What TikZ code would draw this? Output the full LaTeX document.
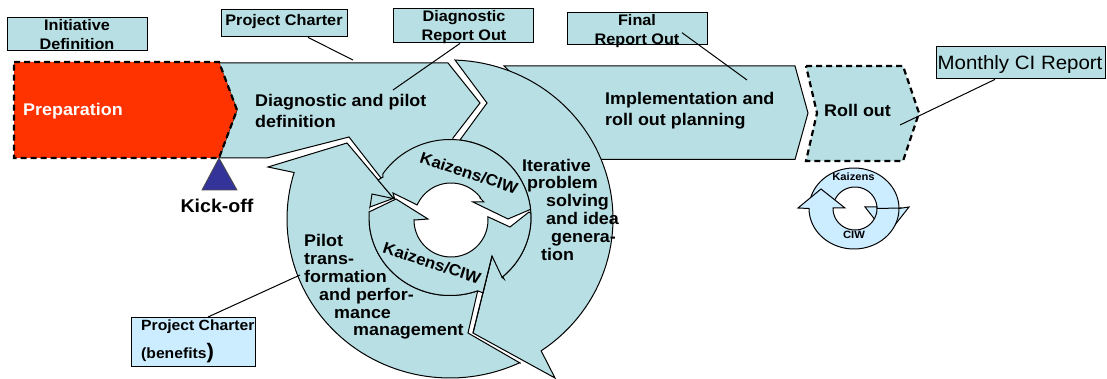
\documentclass[tikz,border=0pt]{standalone}
\usepackage{fontspec}
\setmainfont{Liberation Sans}[FakeStretch=1.06]
\usetikzlibrary{calc}
\definecolor{lb}{HTML}{B8DFE3}
\definecolor{pale}{HTML}{CCECFF}
\definecolor{prep}{HTML}{FF3300}
\definecolor{tri}{HTML}{333399}
\tikzset{
  flow/.style={fill=lb,draw=black,line width=1pt,line join=miter},
  dashflow/.style={fill=lb,draw=black,line width=2.2pt,dash pattern=on 6pt off 4pt},
  smallflow/.style={fill=pale,draw=black,line width=1pt},
  boxshape/.style={draw=black,line width=1.4pt,fill=lb,inner sep=0pt,anchor=north west},
  boxtext/.style={inner sep=0pt,align=center,font=\fontsize{15.3}{19}\selectfont\bfseries},
  main/.style={inner sep=0pt,anchor=west,align=left,font=\fontsize{16.9}{21.5}\selectfont\bfseries},
  spiral/.style={inner sep=0pt,anchor=west,align=left,font=\fontsize{16.9}{17.8}\selectfont\bfseries},
  ringtext/.style={inner sep=0pt,rotate=-18,font=\fontsize{16}{17}\selectfont\bfseries},
  leader/.style={draw=black,line width=1pt},
}
\begin{document}
\begin{tikzpicture}[x=1pt,y=-1pt]
\useasboundingbox (0,0) rectangle (1107,379);
% implementation
\path[flow] (504,66) -- (795,66) -- (808,113) -- (795,159.5) -- (600,159.5) -- (560,120) -- cycle;
% diagnostic
\path[flow] (219,63) -- (448,63) -- (480,103) -- (453,138) -- (450,165) -- (381,178) -- (349,137) -- (267,158) -- (219,158) -- (237,110) -- cycle;
% iterative arrow
\path[flow] (455,60) -- plot[domain=-88:56,samples=60] ({450+163*cos(\x)},{219+159*sin(\x)})
  -- (555,378) -- (473,333) -- (492,256) -- (504,279)
  -- plot[domain=50:-83,samples=50] ({450+81*cos(\x)},{217.5+78*sin(\x)})
  -- (487,103) -- cycle;
% pilot arrow
\path[flow] (520,363) -- plot[domain=64.6:197,samples=60] ({450+163*cos(\x)},{219+159*sin(\x)})
  -- (268,167) -- (347,143) -- (395,200) -- (370,207)
  -- plot[domain=175:70,samples=40] ({450+81*cos(\x)},{217.5+78*sin(\x)})
  -- (468,333) -- cycle;
% gap and sliver at the left of the inner ring
\fill[white] (370,207) -- (393,198) -- (396,200) -- (369,212) -- cycle;
\path[flow] (372,194) -- (393,198.5) -- (370,207) -- cycle;
% upper inner arrow
\path[flow] (383,177) -- plot[domain=-146:-6,samples=50] ({450+81*cos(\x)},{217.5+78*sin(\x)})
  -- (508,219) -- (473,202) -- (484,202) -- (480,198)
  -- plot[domain=-37:-156,samples=30] ({451+37*cos(\x)},{220+37*sin(\x)})
  -- (393,193) -- (395,200) -- (378,180) -- cycle;
% lower inner arrow
\path[flow] (369,212) -- (396,199) -- (428,219) -- (415,220)
  -- plot[domain=180:-5,samples=40] ({451+37*cos(\x)},{220+37*sin(\x)})
  -- (510,227) -- (529,212)
  -- plot[domain=-3:50,samples=20] ({450+81*cos(\x)},{217.5+78*sin(\x)})
  -- (492,256) -- (483,293)
  -- plot[domain=70:175,samples=40] ({450+81*cos(\x)},{217.5+78*sin(\x)})
  -- cycle;
% redraw the shared edge of the head
\draw[leader] (473,333) -- (492,256);
% preparation
\path[fill=prep,draw=black,line width=2.2pt,dash pattern=on 6pt off 4pt] (14,62) -- (219,62) -- (237,110) -- (219,158) -- (14,158) -- cycle;
% roll out
\path[dashflow] (806,66) -- (903,66) -- (919,113) -- (903,161) -- (806,161) -- (817,113) -- cycle;
% kick-off triangle
\path[fill=tri,draw=black!70,line width=0.8pt] (219,158) -- (237,190) -- (202,190) -- cycle;
% small cycle
\path[smallflow] (809,208) -- plot[domain=180:360,samples=40] ({854+45*cos(\x)},{208.5+40.5*sin(\x)})
  -- (909,207) -- (887,235) -- (865,207) -- (877,207)
  -- plot[domain=360:180,samples=30] ({855+22*cos(\x)},{208.5+21.5*sin(\x)}) -- cycle;
\path[smallflow] (798,208) -- (821,189) -- (845,208) -- (833,208)
  -- plot[domain=180:0,samples=30] ({855+22*cos(\x)},{208.5+21.5*sin(\x)})
  -- (900,208)
  -- plot[domain=0:180,samples=40] ({854+45*cos(\x)},{208.5+40.5*sin(\x)})
  -- cycle;
% boxes
\node[boxshape,minimum width=140pt,minimum height=33pt] (initbox) at (7,17) {};
\node[boxshape,minimum width=126pt,minimum height=27pt] (pcbox) at (221,9) {};
\node[boxshape,minimum width=140pt,minimum height=34pt] (drbox) at (393,8) {};
\node[boxshape,minimum width=140pt,minimum height=32pt] (frbox) at (567,12) {};
\node[boxshape,minimum width=169pt,minimum height=32pt] (cibox) at (936,46) {};
\node[boxshape,fill=pale,minimum width=124pt,minimum height=49pt] (benbox) at (131,317) {};
% leaders
\coordinate (pcend) at (353,60);
\coordinate (drend) at (393,90);
\coordinate (frend) at (747,80);
\coordinate (ciend) at (900,125);
\coordinate (benend) at (300,275);
\draw[leader] ([xshift=87pt]pcbox.south west) -- (pcend);
\draw[leader] ([xshift=67pt]drbox.south west) -- (drend);
\draw[leader] ([xshift=115pt,yshift=-4pt]frbox.west) -- (frend);
\draw[leader] ([xshift=59pt]cibox.south west) -- (ciend);
\draw[leader] ([xshift=77pt]benbox.north west) -- (benend);
% box texts
\node[boxtext] (inittext) at (77,35) {Initiative\\Definition};
\node[boxtext] (pctext) at (284,22) {Project Charter};
\node[boxtext] (drtext) at (464,27.5) {Diagnostic\\Report Out};
\node[boxtext] (frtext) at (637,31.5) {Final\\Report Out};
\node[inner sep=0pt,font=\fontsize{19.3}{20}\selectfont] (citext) at (1020,65) {Monthly CI Report};
\node[inner sep=0pt,anchor=west,font=\fontsize{14.8}{16}\selectfont\bfseries] (bentext1) at (141,327) {Project Charter};
\node[inner sep=0pt,anchor=west,font=\fontsize{14.8}{16}\selectfont\bfseries] (bentext2) at (141,353) {(benefits{\fontsize{21}{21}\selectfont)}};
% main texts
\node[main,text=white] (preptext) at (23,111.5) {Preparation};
\node[main] (diagtext) at (255,111) {Diagnostic and pilot\\definition};
\node[main] (impltext) at (605,110.5) {Implementation and\\roll out planning};
\node[main] (rolltext) at (824,110.5) {Roll out};
\node[inner sep=0pt,font=\fontsize{18.5}{20}\selectfont\bfseries] (kicktext) at (217,205.5) {Kick-off};
\node[spiral] (itertext) at (522,209.5) {Iterative\\\hspace*{5pt}problem\\\hspace*{24pt}solving\\\hspace*{24pt}and idea\\\hspace*{29pt}genera-\\\hspace*{19pt}tion};
\node[spiral] (pilottext) at (304,287) {Pilot\\trans-\\formation\\\hspace*{15pt}and perfor-\\\hspace*{30pt}mance\\\hspace*{49pt}management};
\node[ringtext] (ringa) at (469,173) {Kaizens/CIW};
\node[ringtext] (ringb) at (432,263) {Kaizens/CIW};
\node[inner sep=0pt,font=\fontsize{10.6}{12}\selectfont\bfseries] (smalla) at (853.5,177) {Kaizens};
\node[inner sep=0pt,font=\fontsize{10.6}{12}\selectfont\bfseries] (smallb) at (854,235) {CIW};
\end{tikzpicture}
\end{document}
